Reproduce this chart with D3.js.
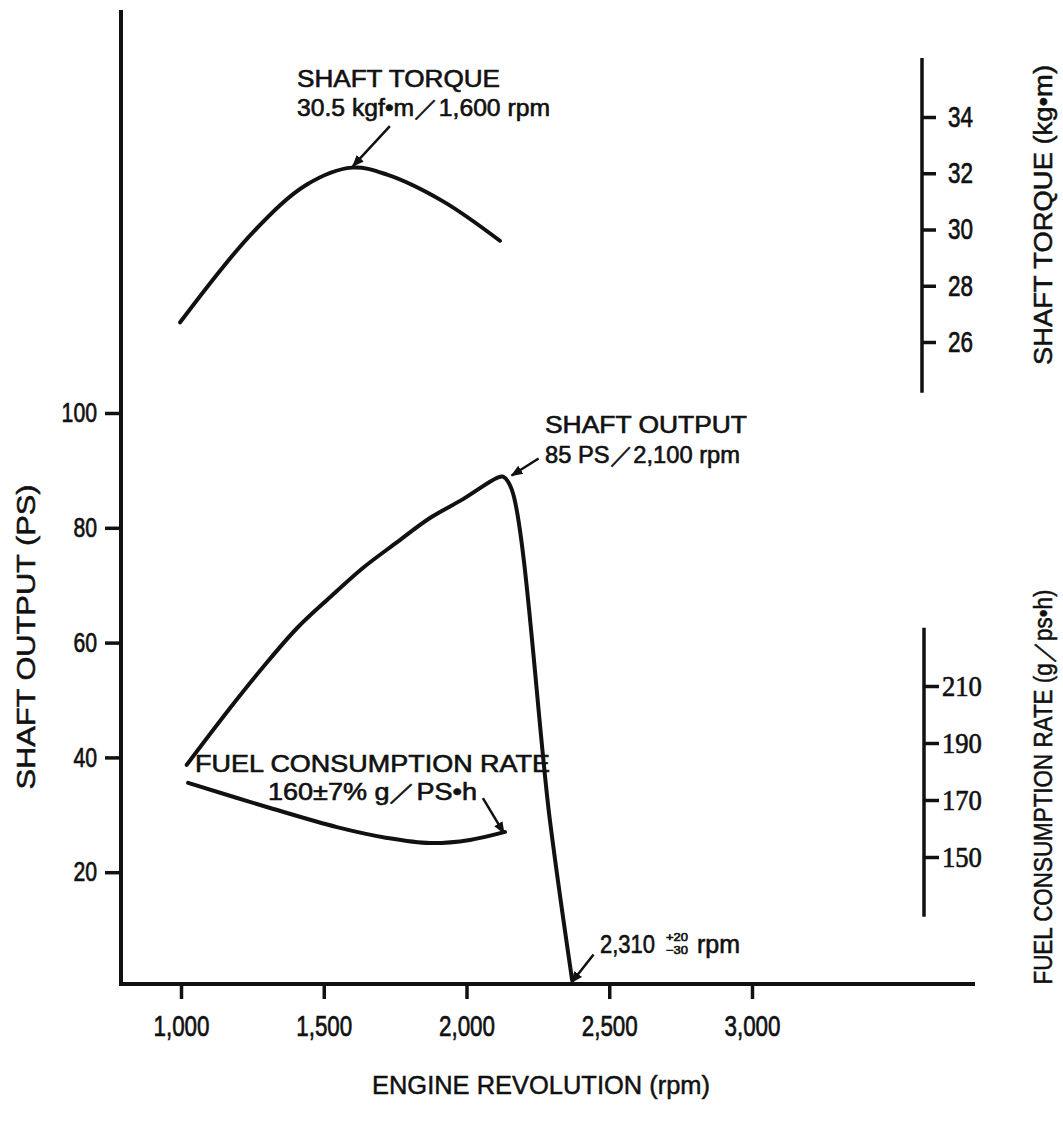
<!DOCTYPE html>
<html>
<head>
<meta charset="utf-8">
<script src="https://cdn.jsdelivr.net/npm/d3@7"></script>
<style>
  body { margin: 0; background: #fff; }
  svg text { fill: #111; font-family: "Liberation Sans", Arial, sans-serif; }
</style>
</head>
<body>
<div id="chart"></div>
<script>
// data
const outputTicks = [20, 40, 60, 80, 100];
const rpmTicks = [1000, 1500, 2000, 2500, 3000];
const torqueTicks = [26, 28, 30, 32, 34];
const fuelTicks = [150, 170, 190, 210];

const torqueRpm = [997, 1252, 1441, 1599, 1722, 1918, 2117];
const torqueVal = [26.7, 29.9, 31.6, 32.2, 31.95, 31.0, 29.6];

const outputRpm = [1020, 1172, 1287, 1406, 1522, 1637, 1757, 1872, 1988, 2107, 2128, 2159, 2292, 2370];
const outputVal = [38.7, 48.6, 55.7, 62.5, 67.9, 73.0, 77.5, 81.7, 85.0, 88.7, 88.9, 86.6, 29.1, 1.2];

const fuelRpm = [1025, 1312, 1546, 1722, 1872, 2012, 2135];
const fuelVal = [176.0, 167.2, 160.5, 156.7, 154.9, 156.0, 158.8];

const W = 1063, H = 1127;

const svg = d3.select("#chart").append("svg")
  .attr("width", W).attr("height", H);

svg.append("defs").append("marker")
  .attr("id", "arr")
  .attr("viewBox", "0 0 10 10")
  .attr("refX", 9).attr("refY", 5)
  .attr("markerWidth", 12).attr("markerHeight", 12)
  .attr("markerUnits", "userSpaceOnUse")
  .attr("orient", "auto")
  .append("path").attr("d", "M0,1 L10,5 L0,9 Z").attr("fill", "#111");

// scales
const x = d3.scaleLinear().domain([1000, 3000]).range([181, 752]);
const yOut = d3.scaleLinear().domain([0, 100]).range([987, 413]);
const yTq = d3.scaleLinear().domain([26, 34]).range([342, 117]);
const yFuel = d3.scaleLinear().domain([150, 210]).range([857, 686]);

const axisX0 = 121, axisY0 = 984;

// axis lines
svg.append("line").attr("x1", axisX0).attr("x2", axisX0)
  .attr("y1", 10).attr("y2", axisY0 + 2)
  .attr("stroke", "#111").attr("stroke-width", 4);
svg.append("line").attr("x1", axisX0 - 1).attr("x2", 975)
  .attr("y1", axisY0).attr("y2", axisY0)
  .attr("stroke", "#111").attr("stroke-width", 4);

function styleAxis(g, size, family, len) {
  g.select(".domain").remove();
  g.selectAll(".tick line").attr("stroke", "#111").attr("stroke-width", 3.5);
  g.selectAll(".tick text")
    .attr("fill", "#111")
    .attr("font-size", size)
    .style("font-size", size + "px")
    .style("font-family", family)
    .attr("stroke", "#111").attr("stroke-width", 0.7)
    .attr("lengthAdjust", "spacingAndGlyphs")
    .attr("textLength", function() { return len * this.textContent.length; });
}

// left: shaft output
svg.append("g")
  .attr("transform", `translate(${axisX0},0)`)
  .call(d3.axisLeft(yOut).tickValues(outputTicks).tickSize(16).tickPadding(8))
  .call(g => styleAxis(g, 27, "'Liberation Sans', Arial, sans-serif", 11.8));

// bottom: engine revolution
svg.append("g")
  .attr("transform", `translate(0,${axisY0})`)
  .call(d3.axisBottom(x).tickValues(rpmTicks).tickFormat(d3.format(",")).tickSize(15).tickPadding(16))
  .call(g => styleAxis(g, 30, "'Liberation Sans', Arial, sans-serif", 11.2));

// right: torque
svg.append("line").attr("x1", 922).attr("x2", 922)
  .attr("y1", yTq(36.1)).attr("y2", yTq(24.2))
  .attr("stroke", "#111").attr("stroke-width", 3.5);
svg.append("g")
  .attr("transform", "translate(922,0)")
  .call(d3.axisRight(yTq).tickValues(torqueTicks).tickSize(14).tickPadding(12))
  .call(g => styleAxis(g, 29, "'Liberation Sans', Arial, sans-serif", 12.5));

// right: fuel consumption
svg.append("line").attr("x1", 924).attr("x2", 924)
  .attr("y1", yFuel(230.4)).attr("y2", yFuel(129))
  .attr("stroke", "#111").attr("stroke-width", 3.5);
svg.append("g")
  .attr("transform", "translate(924,0)")
  .call(d3.axisRight(yFuel).tickValues(fuelTicks).tickSize(15).tickPadding(3))
  .call(g => styleAxis(g, 30, "'Liberation Serif', 'DejaVu Serif', serif", 13.3));

// axis titles
function title(tr, str, len, size) {
  svg.append("text")
    .attr("transform", tr)
    .attr("text-anchor", "middle").attr("dy", "0.35em")
    .attr("textLength", len).attr("lengthAdjust", "spacingAndGlyphs")
    .attr("stroke", "#111").attr("stroke-width", 0.5)
    .style("font-size", size + "px")
    .text(str);
}
title("translate(26,637) rotate(-90)", "SHAFT OUTPUT (PS)", 305, 25);
title("translate(541,1085)", "ENGINE REVOLUTION (rpm)", 338, 26);
title("translate(1043,215) rotate(-90)", "SHAFT TORQUE (kg•m)", 300, 25);
title("translate(1043,787) rotate(-90)", "FUEL CONSUMPTION RATE (g／ps•h)", 395, 25);

// curves
function drawCurve(rpms, vals, scale) {
  const pts = rpms.map((r, i) => [r, vals[i]]);
  const line = d3.line()
    .x(d => x(d[0]))
    .y(d => scale(d[1]))
    .curve(d3.curveCatmullRom.alpha(0.5));
  svg.append("path")
    .datum(pts)
    .attr("fill", "none")
    .attr("stroke", "#111")
    .attr("stroke-width", 4)
    .attr("stroke-linecap", "round")
    .attr("stroke-linejoin", "round")
    .attr("d", line);
}

drawCurve(torqueRpm, torqueVal, yTq);
drawCurve(outputRpm, outputVal, yOut);
drawCurve(fuelRpm, fuelVal, yFuel);

// annotations: arrow tip in data units, tail + text as pixel offsets
function arrow(tx, ty, dx, dy) {
  svg.append("line")
    .attr("x1", tx + dx).attr("y1", ty + dy)
    .attr("x2", tx).attr("y2", ty)
    .attr("stroke", "#111").attr("stroke-width", 2.5)
    .attr("marker-end", "url(#arr)");
}
function label(px, py, str, len, size) {
  svg.append("text")
    .attr("x", px).attr("y", py)
    .attr("textLength", len).attr("lengthAdjust", "spacingAndGlyphs")
    .attr("stroke", "#111").attr("stroke-width", 0.6)
    .style("font-size", size + "px")
    .text(str);
}

// shaft torque peak
let tx = x(1602), ty = yTq(32.25);
arrow(tx, ty, 37, -40);
label(297, 87, "SHAFT  TORQUE", 203, 23);
label(297, 116, "30.5 kgf•m／1,600 rpm", 253, 23);

// shaft output peak
tx = x(2158); ty = yOut(89.1);
arrow(tx, ty, 27, -17);
label(545, 433, "SHAFT  OUTPUT", 202, 23);
label(545, 463, "85 PS／2,100 rpm", 195, 23);

// fuel consumption
tx = x(2131); ty = yFuel(158.4);
arrow(tx, ty, -21, -35);
label(195, 772, "FUEL  CONSUMPTION  RATE", 355, 23);
label(268, 800, "160±7%  g／PS•h", 209, 23);

// cut-off speed
tx = x(2368); ty = yOut(0.8);
arrow(tx, ty, 22, -28);
label(600, 953, "2,310", 55, 25);
label(666, 941, "+20", 22, 11);
label(666, 954, "−30", 22, 11);
label(697, 953, "rpm", 43, 25);
</script>
</body>
</html>
